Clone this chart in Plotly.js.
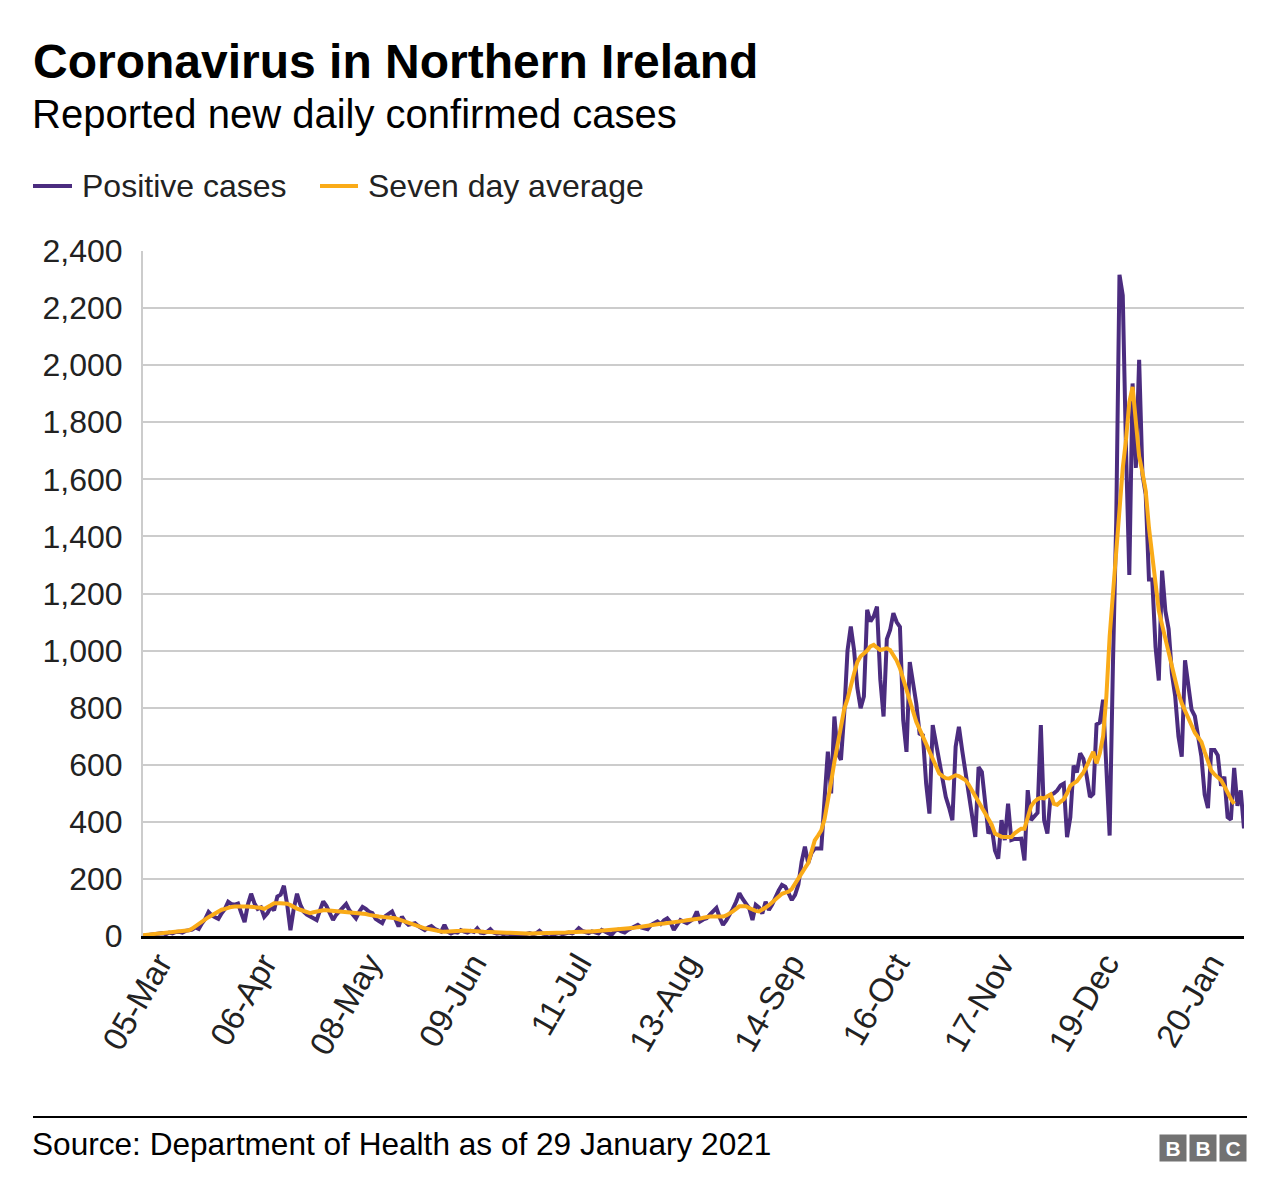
<!DOCTYPE html>
<html>
<head>
<meta charset="utf-8">
<script src="https://cdn.plot.ly/plotly-3.0.1.min.js"></script>
<style>
  html, body { margin: 0; padding: 0; background: #ffffff; }
  #chart { width: 1280px; height: 1204px; }
</style>
</head>
<body>
<div id="chart"></div>
<script>
// ---- Data ----
const startDate = '2020-02-27';   // first reported day on the axis
const positiveCases = [
  1,3,4,5,7,8,10,6,12,9,
  14,15,12,18,20,22,30,25,45,60,
  84,72,66,60,80,
  95,120,112,110,114,80,49,110,148,115,
  95,100,67,80,102,90,138,145,176,110,
  20,95,148,110,86,75,68,62,56,90,
  121,105,80,56,75,86,100,112,90,75,
  62,85,102,95,85,80,60,52,
  45,70,80,86,60,33,68,50,39,42,
  45,35,28,21,30,35,25,20,15,39,
  15,9,14,12,21,15,12,18,14,27,
  12,10,15,24,12,8,10,6,9,7,
  5,8,6,4,7,10,6,9,
  18,8,6,9,5,7,10,6,8,12,
  9,15,27,18,14,10,16,12,9,21,
  15,12,4,18,22,16,12,21,28,32,
  39,30,26,24,38,45,51,42,55,62,
  48,21,40,56,50,45,52,60,
  86,51,58,62,75,88,98,65,39,55,
  74,95,120,150,130,115,97,56,109,100,
  79,120,91,110,138,160,179,173,150,126,
  144,180,260,313,255,290,307,307,307,
  480,646,500,769,640,617,780,1000,1084,1002,
  870,798,839,1143,1102,1120,1154,900,769,1040,
  1072,1131,1100,1083,756,645,960,880,814,709,
  703,534,429,739,680,616,546,487,450,406,
  663,733,650,575,499,420,347,592,575,470,
  359,382,300,271,406,336,464,336,340,340,341,
  265,511,406,420,432,739,406,359,495,500,
  510,527,534,346,416,597,573,640,620,560,
  487,498,741,748,828,587,352,950,1450,2317,
  2244,1700,1265,1936,1640,2019,1618,1547,1249,1249,
  1013,895,1280,1139,1076,919,840,699,628,966,
  872,793,770,700,628,495,448,652,652,633,
  526,558,416,408,589,456,510,377
];
const sevenDayAverage = [
  3,4,5,6,7,8,9,10,11,12,
  13,14,16,18,20,26,33,41,50,58,
  66,73,80,88,92,
  95,100,102,103,104,104,103,103,102,102,
  102,99,95,100,108,115,116,115,114,113,
  108,101,96,92,87,83,80,83,86,88,
  90,90,89,88,88,86,85,83,82,81,
  81,80,80,77,74,71,68,68,
  67,66,64,63,62,58,54,49,45,41,
  38,34,30,27,25,22,20,18,16,15,
  15,15,16,17,18,19,19,18,18,17,
  16,15,14,14,13,13,12,12,11,11,
  10,10,9,9,9,9,9,9,
  9,9,10,10,10,11,11,12,12,13,
  14,14,15,15,16,16,16,17,17,17,
  18,18,19,20,21,22,23,25,27,29,
  31,33,36,38,40,41,42,43,44,45,
  47,48,50,52,53,55,56,57,
  59,61,64,67,68,68,68,68,68,72,
  78,86,95,104,104,104,98,92,88,86,
  92,100,108,118,130,142,148,152,155,165,
  185,202,220,238,255,290,335,352,370,
  410,470,540,610,670,740,795,830,880,920,
  960,980,990,1000,1015,1020,1010,1002,1005,1008,
  1002,985,965,938,900,861,820,779,750,725,
  698,670,642,616,590,569,560,553,552,558,
  563,560,554,546,530,510,490,470,452,435,
  417,390,359,352,348,347,347,347,360,368,376,
  376,410,454,470,480,484,482,490,496,463,
  460,470,479,500,526,535,542,558,573,596,
  620,645,605,640,700,840,1050,1200,1359,1520,
  1640,1740,1870,1924,1780,1680,1625,1560,1430,1330,
  1230,1140,1090,1040,990,935,885,850,815,790,
  765,740,712,696,680,645,610,580,566,556,
  546,525,498,480,463
];
const seriesNames = ['Positive cases', 'Seven day average'];
const tickDates = ['2020-03-05','2020-04-06','2020-05-08','2020-06-09','2020-07-11','2020-08-13',
                   '2020-09-14','2020-10-16','2020-11-17','2020-12-19','2021-01-20'];
const tickLabels = ['05-Mar','06-Apr','08-May','09-Jun','11-Jul','13-Aug',
                    '14-Sep','16-Oct','17-Nov','19-Dec','20-Jan'];
const yTicks = [0,200,400,600,800,1000,1200,1400,1600,1800,2000,2200,2400];

// daily date categories for the series
const dates = [];
{
  const d0 = new Date(startDate + 'T00:00:00Z');
  for (let i = 0; i < positiveCases.length; i++) {
    const d = new Date(d0.getTime() + i * 86400000);
    dates.push(d.toISOString().slice(0, 10));
  }
}

const FONT = '"Liberation Sans", Arial, Helvetica, sans-serif';
const PURPLE = '#4b2c7f';
const ORANGE = '#faab18';

const traces = [
  {
    type: 'scatter', mode: 'lines', name: seriesNames[0],
    x: dates, y: positiveCases,
    line: { color: PURPLE, width: 4 },
    hoverinfo: 'skip', showlegend: false
  },
  {
    type: 'scatter', mode: 'lines', name: seriesNames[1],
    x: dates.slice(0, sevenDayAverage.length), y: sevenDayAverage,
    line: { color: ORANGE, width: 4 },
    hoverinfo: 'skip', showlegend: false
  }
];

// plot area in pixels: left 143, right 1244, top 251, bottom 936
const L = 143, R = 1244, T = 251, B = 936;
const px = v => (v - L) / (R - L);
const py = v => (B - v) / (B - T);

const layout = {
  width: 1280, height: 1204,
  margin: { l: L, r: 1280 - R, t: T, b: 1204 - B, pad: 0 },
  paper_bgcolor: '#ffffff', plot_bgcolor: '#ffffff',
  font: { family: FONT, color: '#222222', size: 32 },
  title: {
    text: '<b>Coronavirus in Northern Ireland</b>',
    font: { family: FONT, size: 48, color: '#000000' },
    x: 33 / 1280, xref: 'container', xanchor: 'left',
    y: 1 - 61 / 1204, yref: 'container', yanchor: 'middle'
  },
  showlegend: false,
  xaxis: {
    type: 'date',
    range: [dates[0], dates[dates.length - 1]],
    tickmode: 'array', tickvals: tickDates, ticktext: tickLabels,
    tickangle: -60,
    tickfont: { family: FONT, size: 33, color: '#222222' },
    ticklabelshift: -7, ticklabelstandoff: -8,
    showgrid: false, zeroline: false,
    showline: true, linecolor: '#000000', linewidth: 3,
    ticks: '', fixedrange: true
  },
  yaxis: {
    range: [0, 2400],
    tickmode: 'array', tickvals: yTicks,
    tickformat: ',d',
    tickfont: { family: FONT, size: 32, color: '#222222' },
    showgrid: true, gridcolor: '#cccccc', gridwidth: 2,
    zeroline: false,
    showline: true, linecolor: '#cccccc', linewidth: 2,
    ticks: '', ticklabelstandoff: 12, fixedrange: true
  },
  shapes: [
    // rule above the source line
    { type: 'line', xref: 'paper', yref: 'paper',
      x0: px(33), x1: px(1247), y0: py(1117), y1: py(1117),
      line: { color: '#000000', width: 2 } },
    // legend keys
    { type: 'line', xref: 'paper', yref: 'paper',
      x0: px(33), x1: px(72), y0: py(186), y1: py(186),
      line: { color: PURPLE, width: 4 } },
    { type: 'line', xref: 'paper', yref: 'paper',
      x0: px(320), x1: px(358), y0: py(186), y1: py(186),
      line: { color: ORANGE, width: 4 } }
  ],
  annotations: [
    { xref: 'paper', yref: 'paper', x: px(30), y: py(114), xanchor: 'left', yanchor: 'middle',
      text: 'Reported new daily confirmed cases', showarrow: false,
      font: { family: FONT, size: 40, color: '#000000' } },
    { xref: 'paper', yref: 'paper', x: px(80), y: py(186), xanchor: 'left', yanchor: 'middle',
      text: seriesNames[0], showarrow: false,
      font: { family: FONT, size: 32, color: '#222222' } },
    { xref: 'paper', yref: 'paper', x: px(366), y: py(186), xanchor: 'left', yanchor: 'middle',
      text: seriesNames[1], showarrow: false,
      font: { family: FONT, size: 32, color: '#222222' } },
    { xref: 'paper', yref: 'paper', x: px(30), y: py(1144), xanchor: 'left', yanchor: 'middle',
      text: 'Source: Department of Health as of 29 January 2021', showarrow: false,
      font: { family: FONT, size: 31.6, color: '#000000' } },
    { xref: 'paper', yref: 'paper', x: px(1173), y: py(1148), xanchor: 'center', yanchor: 'middle',
      text: '<b>B</b>', showarrow: false, width: 26, height: 26, borderpad: 0,
      bgcolor: '#727272', font: { family: FONT, size: 21, color: '#ffffff' } },
    { xref: 'paper', yref: 'paper', x: px(1203), y: py(1148), xanchor: 'center', yanchor: 'middle',
      text: '<b>B</b>', showarrow: false, width: 26, height: 26, borderpad: 0,
      bgcolor: '#727272', font: { family: FONT, size: 21, color: '#ffffff' } },
    { xref: 'paper', yref: 'paper', x: px(1233), y: py(1148), xanchor: 'center', yanchor: 'middle',
      text: '<b>C</b>', showarrow: false, width: 26, height: 26, borderpad: 0,
      bgcolor: '#727272', font: { family: FONT, size: 21, color: '#ffffff' } }
  ]
};

Plotly.newPlot('chart', traces, layout, { staticPlot: true, displayModeBar: false });
</script>
</body>
</html>
